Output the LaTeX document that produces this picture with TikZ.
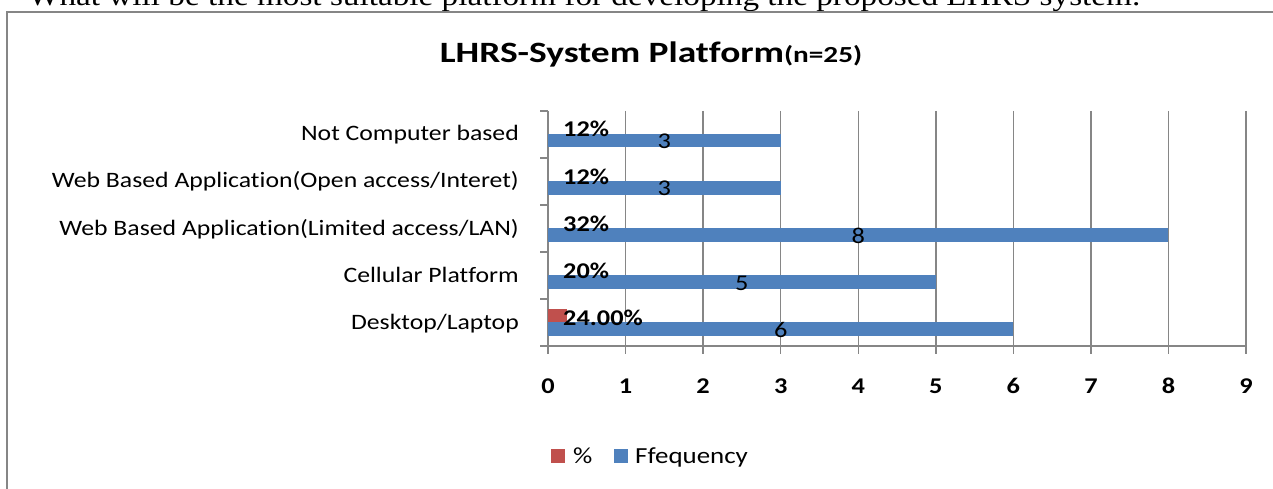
\documentclass[tikz,border=0pt]{standalone}
\usepackage{fontspec}
\newfontfamily\calfont[FakeStretch=1.17,Ligatures=NoCommon]{Carlito}
\newfontfamily\titlefont[FakeStretch=1.27,Ligatures=NoCommon]{Carlito}
\newfontfamily\tnrfont[FakeStretch=1.17]{Liberation Serif}
\definecolor{barblue}{HTML}{4F81BD}
\definecolor{barred}{HTML}{C0504D}
\definecolor{gridgray}{HTML}{868686}
\begin{document}
\begin{tikzpicture}[x=1pt,y=-1pt,
  grid/.style={draw=gridgray, line width=1.4pt},
  frame/.style={draw=gridgray, line width=2.2pt},
  catlbl/.style={inner sep=0pt, anchor=base east, font=\calfont\fontsize{22}{26}\selectfont},
  pctlbl/.style={inner sep=0pt, anchor=base west, font=\calfont\bfseries\fontsize{22.5}{26}\selectfont},
  numlbl/.style={inner sep=0pt, anchor=base, font=\calfont\fontsize{22.5}{26}\selectfont},
  ticklbl/.style={inner sep=0pt, anchor=base, font=\calfont\bfseries\fontsize{22.5}{26}\selectfont},
  leglbl/.style={inner sep=0pt, anchor=base west, font=\calfont\fontsize{23}{26}\selectfont},
  bluebar/.style={fill=barblue},
  redbar/.style={fill=barred}]
\useasboundingbox (0,0) rectangle (1273,489);
\clip (0,0) rectangle (1273,489);
\fill[white] (0,0) rectangle (1273,489);
% question text (cut at the top)
\node[inner sep=0pt, anchor=base west, font=\tnrfont\fontsize{28.4}{32}\selectfont] (q) at (28,6)
  {What will be the most suitable platform for developing the proposed LHRS system.};
% frame
\draw[frame] (7,492) -- (7,12) -- (1276,12);
% title
\node[inner sep=0pt, anchor=base] (title) at (651,63)
  {\titlefont\bfseries\fontsize{29.5}{34}\selectfont LHRS-System Platform\fontsize{23}{26}\selectfont(n=25)};
% grid
\foreach \i in {1,...,9} \draw[grid] ({548+77.56*\i},111) -- ({548+77.56*\i},354);
\draw[grid] (548,111) -- (548,354);
\draw[grid] (548,346) -- (1246,346);
\foreach \j in {0,...,5} \draw[grid] (540,{111+47*\j}) -- (548,{111+47*\j});
\foreach \i in {0,...,9} \node[ticklbl] (t\i) at ({548+77.56*\i},393) {\i};
% bars
\fill[bluebar] (548,134) rectangle ({548+77.56*3},147.5);
\fill[bluebar] (548,181) rectangle ({548+77.56*3},194.5);
\fill[bluebar] (548,228) rectangle ({548+77.56*8},241.5);
\fill[bluebar] (548,275) rectangle ({548+77.56*5},288.5);
\fill[redbar] (548,308.5) rectangle ({548+77.56*0.24},322);
\fill[bluebar] (548,322) rectangle ({548+77.56*6},335.5);
% category labels
\node[catlbl] (c1) at (519,141) {Not Computer based};
\node[catlbl] (c2) at (519,188) {Web Based Applicat\kern0pt ion(Open access/Interet)};
\node[catlbl] (c3) at (519,235) {Web Based Applicat\kern0pt ion(Limited access/LAN)};
\node[catlbl] (c4) at (519,282) {Cellular Platform};
\node[catlbl] (c5) at (519,329) {Desktop/Laptop};
% percent labels
\node[pctlbl] (p1) at (563,137) {12\%};
\node[pctlbl] (p2) at (563,184) {12\%};
\node[pctlbl] (p3) at (563,231) {32\%};
\node[pctlbl] (p4) at (563,278) {20\%};
\node[pctlbl] (p5) at (563,325) {24.00\%};
% frequency labels
\node[numlbl] (n1) at ({548+77.56*1.5},149) {3};
\node[numlbl] (n2) at ({548+77.56*1.5},196) {3};
\node[numlbl] (n3) at ({548+77.56*4},243) {8};
\node[numlbl] (n4) at ({548+77.56*2.5},290) {5};
\node[numlbl] (n5) at ({548+77.56*3},337) {6};
% legend
\fill[redbar] (551,449) rectangle (565,463);
\node[leglbl] (l1) at (573,463) {\%};
\fill[bluebar] (614,449) rectangle (628,463);
\node[leglbl] (l2) at (635,463) {Ffequency};
\end{tikzpicture}
\end{document}
